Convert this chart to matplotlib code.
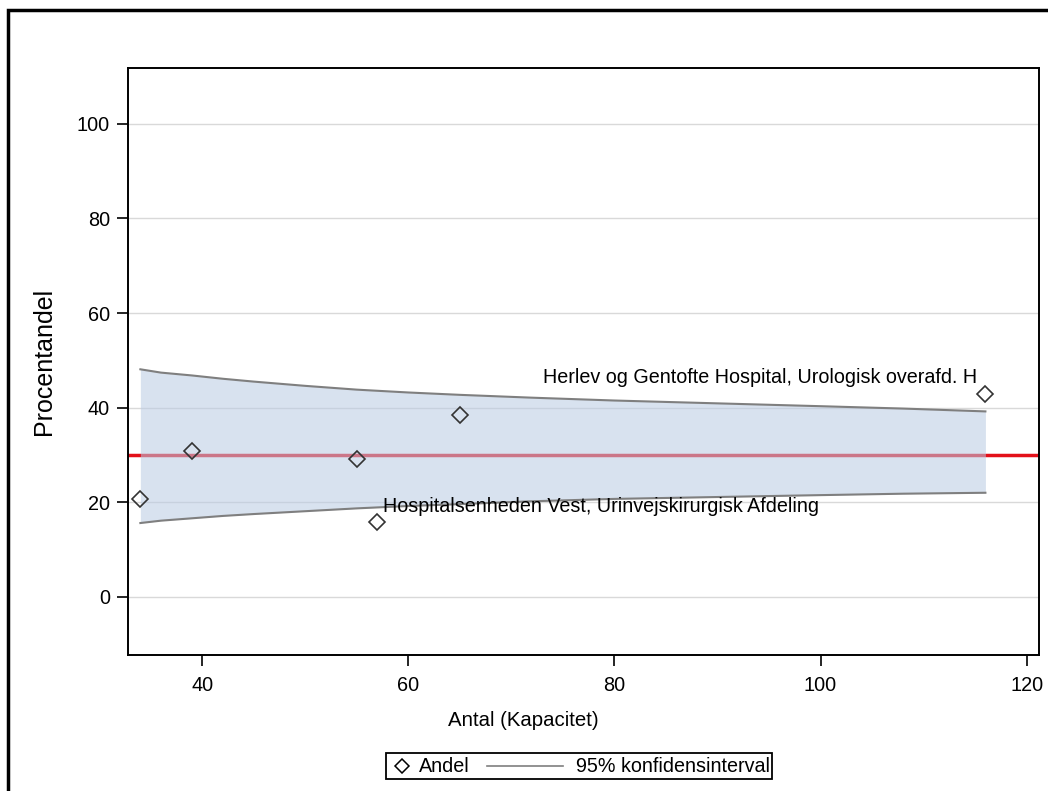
import matplotlib
matplotlib.use("Agg")
import matplotlib.pyplot as plt
from matplotlib.patches import Rectangle
from matplotlib.lines import Line2D

plt.rcParams['font.family'] = ['Liberation Sans', 'DejaVu Sans']

# andel per afdeling
antal = [34, 39, 55, 57, 65, 116]
andel = [20.7, 30.8, 29.2, 15.9, 38.4, 42.9]

# konfidensgraenser
ci_x = [34, 36, 39, 42, 45, 50, 55, 60, 65, 72, 80, 90, 100, 108, 116]
ci_upper = [48.1, 47.4, 46.8, 46.1, 45.5, 44.6, 43.8, 43.2, 42.7, 42.1, 41.5, 40.9, 40.3, 39.8, 39.2]
ci_lower = [15.6, 16.1, 16.6, 17.1, 17.5, 18.1, 18.7, 19.2, 19.6, 20.2, 20.7, 21.1, 21.5, 21.8, 22.0]
mean_line = 30.0

label_herlev = "Herlev og Gentofte Hospital, Urologisk overafd. H"
label_vest = "Hospitalsenheden Vest, Urinvejskirurgisk Afdeling"

W, H = 1048, 791
fig = plt.figure(figsize=(W / 100, H / 100), dpi=100)
ax = fig.add_axes([128/W, 1 - 655/H, (1039-128)/W, (655-68)/H])

ax.set_xlim(32.8, 121.2)
ax.set_ylim(-12.3, 111.8)

ax.yaxis.grid(True, color='#d9d9d9', linewidth=1.0, zorder=0)
ax.set_axisbelow(True)

ax.axhline(mean_line, color='#e3101a', linewidth=2.5, zorder=2)
ax.fill_between(ci_x, ci_lower, ci_upper, color='#b9cbe3', alpha=0.55,
                linewidth=0, zorder=3)
ax.plot(ci_x, ci_upper, color='#7f7f7f', linewidth=1.5, zorder=4)
ax.plot(ci_x, ci_lower, color='#7f7f7f', linewidth=1.5, zorder=4)

ax.plot(antal, andel, linestyle='none', marker='D', markersize=8.5,
        markerfacecolor='none', markeredgecolor='#333333',
        markeredgewidth=1.2, zorder=5)

ax.annotate(label_herlev, (antal[5], andel[5]), xytext=(-6, 12),
            textcoords='offset points', ha='right', va='center',
            fontsize=14.2, zorder=6)
ax.annotate(label_vest, (antal[3], andel[3]), xytext=(4, 11),
            textcoords='offset points', ha='left', va='center',
            fontsize=14.2, zorder=6)

ax.set_xticks([40, 60, 80, 100, 120])
ax.set_yticks([0, 20, 40, 60, 80, 100])
ax.tick_params(axis='both', direction='out', length=8, width=1.2,
               labelsize=14.3, colors='black', pad=5)
ax.tick_params(axis='x', pad=7)
for s in ax.spines.values():
    s.set_linewidth(1.4)
    s.set_color('black')

ax.set_ylabel('Procentandel', fontsize=18)
ax.yaxis.set_label_coords(-0.079, 0.5)
fig.text(523/W, 1 - 720/H, 'Antal (Kapacitet)', fontsize=14.7,
         ha='center', va='center')

# legend box, drawn by hand in pixel positions
def fx(px):
    return px / W

def fy(py):
    return 1 - py / H

fig.patches.append(Rectangle((fx(386), fy(779)), fx(772) - fx(386), fy(753) - fy(779),
                             transform=fig.transFigure, fill=True, facecolor='white',
                             edgecolor='black', linewidth=1.3))
fig.lines.append(Line2D([fx(402)], [fy(766)], transform=fig.transFigure,
                        linestyle='none', marker='D', markersize=7,
                        markerfacecolor='none', markeredgecolor='black',
                        markeredgewidth=1.1))
fig.text(fx(419), fy(766), 'Andel', fontsize=14.2, ha='left', va='center')
fig.lines.append(Line2D([fx(487), fx(563)], [fy(766), fy(766)],
                        transform=fig.transFigure, color='#7f7f7f', linewidth=1.2))
fig.text(fx(576), fy(766), '95% konfidensinterval', fontsize=14.2,
         ha='left', va='center')

# outer frame of the figure
fig.patches.append(Rectangle((fx(8), -0.1), 1.2, fy(10) + 0.1,
                             transform=fig.transFigure, fill=False,
                             edgecolor='black', linewidth=2.5))

fig.savefig('out.png', dpi=100)
